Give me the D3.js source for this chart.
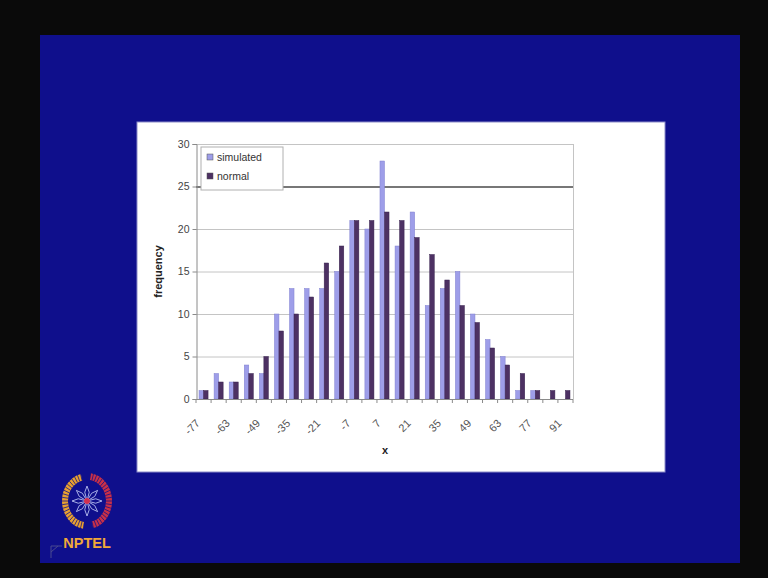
<!DOCTYPE html>
<html>
<head>
<meta charset="utf-8">
<script src="https://cdn.jsdelivr.net/npm/d3@7"></script>
<style>
  html, body { margin: 0; padding: 0; background: #0a0a0a; }
  svg { display: block; }
  text { font-family: "Liberation Sans", Arial, sans-serif; }
</style>
</head>
<body>
<svg id="slide" width="768" height="578"></svg>
<script>
// Histogram bins (class midpoints of x)
const categories = [-77, -70, -63, -56, -49, -42, -35, -28, -21, -14, -7, 0, 7,
                    14, 21, 28, 35, 42, 49, 56, 63, 70, 77, 84, 91];
// Frequencies per bin
const simulated = [1, 3, 2, 4, 3, 10, 13, 13, 13, 15, 21, 20, 28,
                   18, 22, 11, 13, 15, 10, 7, 5, 1, 1, 0, 0];
const normal    = [1, 2, 2, 3, 5, 8, 10, 12, 16, 18, 21, 21, 22,
                   21, 19, 17, 14, 11, 9, 6, 4, 3, 1, 1, 1];
const seriesNames = ["simulated", "normal"];
const seriesColors = ["#9e9ee9", "#4d3163"];
// Labelled bins on the category axis
const tickLabels = [-77, -63, -49, -35, -21, -7, 7, 21, 35, 49, 63, 77, 91];
const yTicks = [0, 5, 10, 15, 20, 25, 30];

const svg = d3.select("#slide");

// Slide background
svg.append("rect").attr("x", 0).attr("y", 0).attr("width", 768).attr("height", 578).attr("fill", "#0a0a0a");
svg.append("rect").attr("x", 40).attr("y", 35).attr("width", 700).attr("height", 528).attr("fill", "#0f0f8c");

// White chart panel
svg.append("rect").attr("x", 137).attr("y", 122).attr("width", 528).attr("height", 350)
  .attr("fill", "#ffffff").attr("stroke", "#8c8cc8").attr("stroke-width", 1);

const plot = { left: 196, right: 573, top: 144, bottom: 399 };

const x = d3.scaleBand().domain(categories).range([plot.left, plot.right])
  .paddingInner(0.4).paddingOuter(0.2);
const xs = d3.scaleBand().domain(seriesNames).range([0, x.bandwidth()]);
const y = d3.scaleLinear().domain([0, 30]).range([plot.bottom, plot.top]);

const g = svg.append("g");

// Horizontal gridlines
g.append("g").selectAll("line").data(yTicks.filter(v => v > 0)).join("line")
  .attr("x1", plot.left).attr("x2", plot.right)
  .attr("y1", d => y(d) + 0.5).attr("y2", d => y(d) + 0.5)
  .attr("stroke", d => d === 25 ? "#4a4a4a" : "#c4c4c4")
  .attr("stroke-width", d => d === 25 ? 1.3 : 1);

// Plot area right border
g.append("line").attr("x1", plot.right + 0.5).attr("x2", plot.right + 0.5)
  .attr("y1", plot.top).attr("y2", plot.bottom).attr("stroke", "#c4c4c4");

// Bars
const bins = categories.map((c, i) => ({ c, vals: [simulated[i], normal[i]] }));
g.append("g").selectAll("g").data(bins).join("g")
  .attr("transform", d => `translate(${x(d.c)},0)`)
  .selectAll("rect").data(d => d.vals.map((v, k) => ({ v, k }))).join("rect")
  .attr("x", d => xs(seriesNames[d.k]))
  .attr("width", xs.bandwidth())
  .attr("y", d => y(d.v))
  .attr("height", d => y(0) - y(d.v))
  .attr("fill", d => seriesColors[d.k])
  .attr("stroke", d => d.k === 0 ? "#8080d0" : "#3a2450")
  .attr("stroke-width", 0.5);

// Y axis
const yAxis = d3.axisLeft(y).tickValues(yTicks).tickSize(4).tickPadding(3);
const ya = g.append("g").attr("transform", `translate(${plot.left + 0.5},0)`).call(yAxis);
ya.select(".domain").attr("stroke", "#8a8a8a");
ya.selectAll(".tick line").attr("stroke", "#8a8a8a");
ya.selectAll(".tick text").attr("fill", "#444").attr("font-size", 10.5);

// Category axis baseline and boundary ticks
g.append("line").attr("x1", plot.left).attr("x2", plot.right)
  .attr("y1", plot.bottom + 0.5).attr("y2", plot.bottom + 0.5).attr("stroke", "#8a8a8a");
const boundaries = categories.map(c => x(c) - x.step() * x.paddingInner() / 2)
  .concat([x(categories[categories.length - 1]) + x.bandwidth() + x.step() * x.paddingInner() / 2]);
g.append("g").selectAll("line").data(boundaries).join("line")
  .attr("x1", d => d).attr("x2", d => d)
  .attr("y1", plot.bottom).attr("y2", plot.bottom + 4)
  .attr("stroke", "#8a8a8a");

// Rotated category labels
g.append("g").selectAll("text").data(tickLabels).join("text")
  .attr("transform", d => `translate(${x(d) + x.bandwidth() / 2 - 3},${plot.bottom + 25}) rotate(-45)`)
  .attr("text-anchor", "end")
  .attr("font-size", 11)
  .attr("fill", "#555")
  .text(d => d);

// Axis titles
svg.append("text").attr("transform", `translate(162,${(plot.top + plot.bottom) / 2}) rotate(-90)`)
  .attr("text-anchor", "middle").attr("font-weight", "bold").attr("font-size", 11)
  .attr("fill", "#222").text("frequency");
svg.append("text").attr("x", 385).attr("y", 454)
  .attr("text-anchor", "middle").attr("font-weight", "bold").attr("font-size", 11)
  .attr("fill", "#222").text("x");

// Legend
const lg = svg.append("g").attr("transform", "translate(201,147)");
lg.append("rect").attr("width", 82).attr("height", 43)
  .attr("fill", "#fff").attr("stroke", "#b0b0b0");
seriesNames.forEach((name, k) => {
  lg.append("rect").attr("x", 6).attr("y", 7 + k * 19).attr("width", 6).attr("height", 6)
    .attr("fill", seriesColors[k]).attr("stroke", "#555").attr("stroke-width", 0.5);
  lg.append("text").attr("x", 16).attr("y", 14 + k * 19)
    .attr("font-size", 10.5).attr("fill", "#333").text(name);
});

// NPTEL emblem
const logo = svg.append("g").attr("transform", "translate(87,501)");
const arcL = d3.arc().innerRadius(19).outerRadius(25).startAngle(-Math.PI * 0.95).endAngle(-Math.PI * 0.08);
const arcR = d3.arc().innerRadius(19).outerRadius(25).startAngle(Math.PI * 0.05).endAngle(Math.PI * 0.92);
logo.append("path").attr("d", arcL()).attr("fill", "#e8a030")
  .attr("transform", "scale(1,1.12)");
logo.append("path").attr("d", arcR()).attr("fill", "#c83048")
  .attr("transform", "scale(1,1.12)");
// stripes on the rim
d3.range(0, 48).forEach(i => {
  const a = i * Math.PI * 2 / 48;
  logo.append("line")
    .attr("x1", Math.sin(a) * 19).attr("y1", -Math.cos(a) * 19 * 1.12)
    .attr("x2", Math.sin(a) * 25).attr("y2", -Math.cos(a) * 25 * 1.12)
    .attr("stroke", "#0f0f8c").attr("stroke-width", 0.8);
});
d3.range(0, 8).forEach(i => {
  const a = i * Math.PI / 4;
  logo.append("path")
    .attr("d", `M0,0 L${Math.sin(a + 0.25) * 9},${-Math.cos(a + 0.25) * 9} L${Math.sin(a) * 15},${-Math.cos(a) * 15} L${Math.sin(a - 0.25) * 9},${-Math.cos(a - 0.25) * 9} Z`)
    .attr("fill", "none").attr("stroke", "#b8c0f0").attr("stroke-width", 0.9);
});
logo.append("circle").attr("r", 3).attr("fill", "#d03050");
svg.append("text").attr("x", 87).attr("y", 548).attr("text-anchor", "middle")
  .attr("font-family", "'DejaVu Sans', sans-serif").attr("font-weight", "bold")
  .attr("font-size", 14.5).attr("fill", "#f0a838").text("NPTEL");
// small corner mark
svg.append("path").attr("d", "M51,558 L51,546 L62,546 M51,552 L58,546")
  .attr("fill", "none").attr("stroke", "#4a4a90").attr("stroke-width", 1);
</script>
</body>
</html>
